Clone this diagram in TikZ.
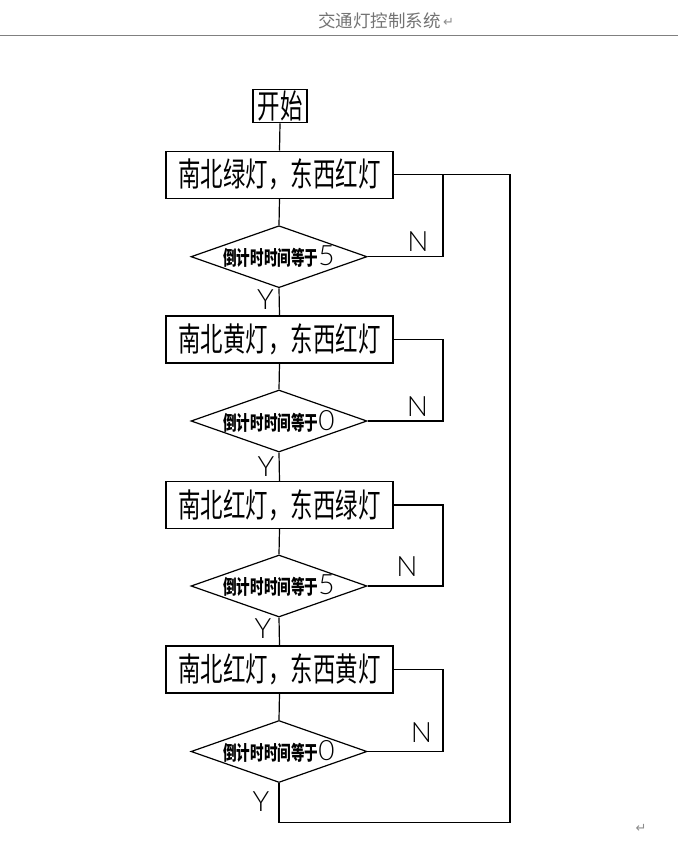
\documentclass[tikz,border=0pt]{standalone}
\usepackage{fontspec}
\usepackage{graphicx}
\usetikzlibrary{shapes.geometric}
\newfontfamily\cjk{Noto Sans CJK SC}
\newfontfamily\latinthin{Lato Light}
\newfontfamily\symfont{DejaVu Sans}

% Flowchart of the traffic-light controller, drawn in pixel-like units
\tikzset{
  flow/.style={line width=1.2pt, draw=black},
  procbox/.style={flow, rectangle, minimum width=227pt, minimum height=47pt, inner sep=0pt},
  startbox/.style={flow, rectangle, minimum width=54pt, minimum height=33pt, inner sep=0pt},
  decision/.style={flow, diamond, aspect=2.84, minimum width=176pt, minimum height=62pt, inner sep=0pt},
  yn/.style={inner sep=0pt, font=\latinthin\fontsize{28}{28}\selectfont},
  link/.style={line width=1.2pt, black},
  header/.style={inner sep=0pt, text=black!55, font=\cjk\fontsize{17.5}{17.5}\selectfont},
  retmark/.style={inner sep=0pt, text=black!45, font=\symfont\fontsize{13}{13}\selectfont},
  rule/.style={line width=1pt, draw=black!50},
}
\newcommand{\boxtext}[1]{\scalebox{0.68}[1]{\cjk\fontsize{33}{33}\selectfont #1}}
\newcommand{\condtext}[2]{\scalebox{0.68}[1]{\cjk\bfseries\fontsize{20}{20}\selectfont #1}{\latinthin\fontsize{28}{28}\selectfont #2}}

\begin{document}
\begin{tikzpicture}[x=1pt, y=-1pt]
  \useasboundingbox (0,0) rectangle (678,841);

  % page header
  \coordinate (hl) at (0,35);
  \coordinate (hr) at (678,35);
  \draw[rule] (hl) -- (hr);
  \node[header, anchor=west] (title) at (318,21) {交通灯控制系统};
  \node[retmark, anchor=west] (titleret) at (443,22) {↵};
  \node[retmark, anchor=south] (pageret) at (641,833) {↵};

  % nodes
  \node[startbox] (start) at (280,106.3) {\boxtext{开始}};

  \node[procbox] (b1) at (279.5,174.6) {\boxtext{南北绿灯，东西红灯}};
  \node[decision] (d1) at (279,256.7) {\condtext{倒计时时间等于}{5}};

  \node[procbox] (b2) at (279.5,339.5) {\boxtext{南北黄灯，东西红灯}};
  \node[decision] (d2) at (279,421) {\condtext{倒计时时间等于}{0}};

  \node[procbox] (b3) at (279.5,505) {\boxtext{南北红灯，东西绿灯}};
  \node[decision] (d3) at (279,586) {\condtext{倒计时时间等于}{5}};

  \node[procbox] (b4) at (279.5,669.4) {\boxtext{南北红灯，东西黄灯}};
  \node[decision] (d4) at (279,751.5) {\condtext{倒计时时间等于}{0}};

  % branch labels
  \node[yn] (y1) at (265.5,300) {Y};
  \node[yn] (y2) at (266,466.5) {Y};
  \node[yn] (y3) at (263,629) {Y};
  \node[yn] (y4) at (261,801.5) {Y};
  \node[yn] (n1) at (418,241.5) {N};
  \node[yn] (n2) at (417.5,406.7) {N};
  \node[yn] (n3) at (407,566.7) {N};
  \node[yn] (n4) at (421.5,733) {N};

  % main flow
  \draw[link] (start.south) -- (b1.north);
  \draw[link] (b1.south) -- (d1.north);
  \draw[link] (d1.south) -- (b2.north);
  \draw[link] (b2.south) -- (d2.north);
  \draw[link] (d2.south) -- (b3.north);
  \draw[link] (b3.south) -- (d3.north);
  \draw[link] (d3.south) -- (b4.north);
  \draw[link] (b4.south) -- (d4.north);

  % "N" loops back to the same state
  \coordinate (loopx) at (443,0);
  \draw[link] (d1.east) -- (d1.east -| loopx) |- (b1.east);
  \draw[link] (d2.east) -- (d2.east -| loopx) |- (b2.east);
  \draw[link] (d3.east) -- (d3.east -| loopx) |- (b3.east);
  \draw[link] (d4.east) -- (d4.east -| loopx) |- (b4.east);

  % last "Y" returns to the first state
  \coordinate (ret) at (510,822.7);
  \draw[link] (d4.south) |- (ret) |- (b1.east);
\end{tikzpicture}
\end{document}
